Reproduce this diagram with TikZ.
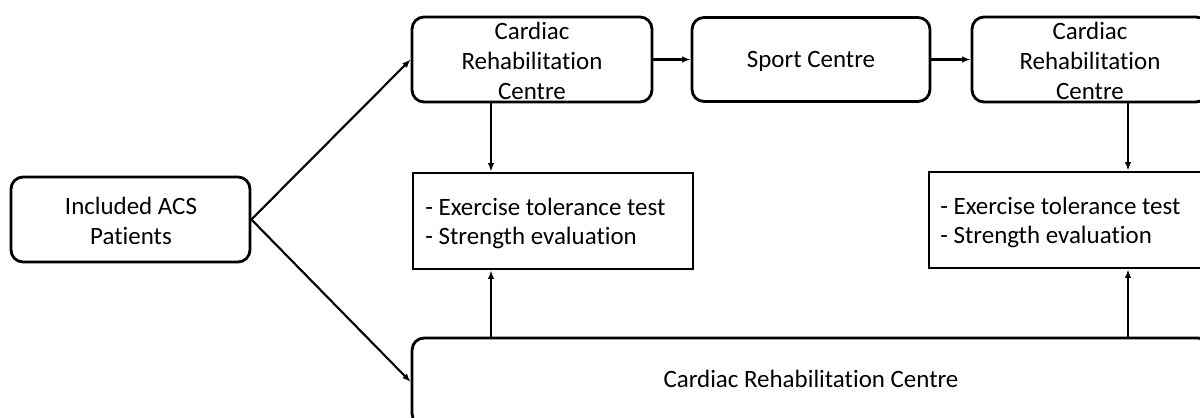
\documentclass[tikz,border=0pt]{standalone}
\usepackage{fontspec}
\setmainfont{Carlito}[RawFeature={-liga;-clig;-calt}]
\usetikzlibrary{arrows.meta,calc}
\begin{document}
\begin{tikzpicture}[x=0.02cm,y=-0.02cm,
  every node/.style={font=\fontsize{14.2pt}{17pt}\selectfont},
  rbox/.style={draw,line width=1.6pt,rectangle,rounded corners=0.24cm,inner sep=0pt},
  sbox/.style={draw,line width=1.6pt,rectangle,inner sep=0pt},
  txt/.style={inner sep=0pt,align=center},
  ltxt/.style={inner sep=0pt,align=left,anchor=west},
  arr/.style={line width=1.2pt,-{Latex[length=0.17cm,width=0.13cm]}}]
\useasboundingbox (0,0) rectangle (1200,418);
\clip (0,0) rectangle (1200,418);
% boxes
\node[rbox,minimum width=4.78cm,minimum height=1.70cm] (p) at (130.5,219.5) {};
\node[rbox,minimum width=4.80cm,minimum height=1.70cm] (a) at (532,59.5) {};
\node[rbox,minimum width=4.76cm,minimum height=1.68cm] (s) at (811,59.5) {};
\node[rbox,minimum width=4.72cm,minimum height=1.70cm] (b) at (1090,59.5) {};
\node[sbox,minimum width=5.6cm,minimum height=1.92cm] (e1) at (553,221) {};
\node[sbox,minimum width=5.6cm,minimum height=1.92cm] (e2) at (1069,220) {};
\node[rbox,minimum width=15.96cm,minimum height=1.76cm] (bot) at (811,382) {};
% texts
\node[txt] (pt) at (131,220.5) {Included ACS\\Patients};
\node[txt] (at) at (532,61) {Cardiac\\Rehabilitation\\Centre};
\node[txt] (st) at (811,61) {Sport Centre};
\node[txt] (bt) at (1090,61) {Cardiac\\Rehabilitation\\Centre};
\node[ltxt] (e1t) at (425,223.5) {- Exercise tolerance test\\- Strength evaluation};
\node[ltxt] (e2t) at (940,222.5) {- Exercise tolerance test\\- Strength evaluation};
\node[txt] (bott) at (811,378.5) {Cardiac Rehabilitation Centre};
% connectors
\coordinate (c1) at (491,0);
\coordinate (c2) at (1128,0);
\draw[arr] (p.east) -- (a.west);
\draw[arr] (p.east) -- (bot.west);
\draw[arr] (a.east) -- (s.west);
\draw[arr] (s.east) -- (b.west);
\draw[arr] (a.south -| c1) -- (e1.north -| c1);
\draw[arr] (b.south -| c2) -- (e2.north -| c2);
\draw[arr] (bot.north -| c1) -- (e1.south -| c1);
\draw[arr] (bot.north -| c2) -- (e2.south -| c2);
\end{tikzpicture}
\end{document}
